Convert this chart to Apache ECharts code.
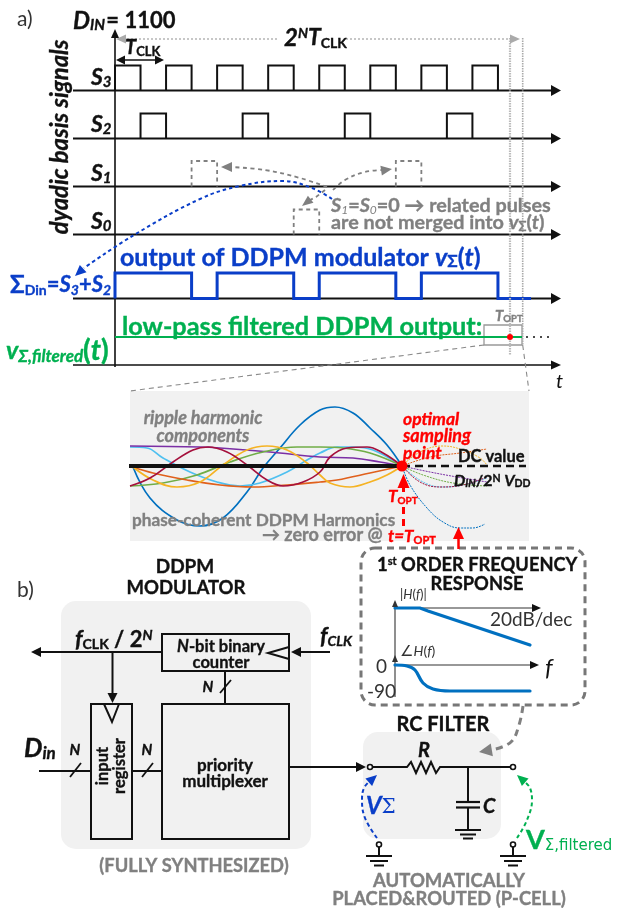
<!DOCTYPE html>
<html><head><meta charset="utf-8">
<style>html,body{margin:0;padding:0;background:#fff}#c{width:624px;height:908px}</style>
<script src="https://cdn.jsdelivr.net/npm/echarts@6/dist/echarts.min.js"></script>
</head><body><div id="c"></div>
<script>
// ---------- digital waveforms (one value per clock slot) ----------
const S3 = [1,0,1,0,1,0,1,0,1,0,1,0,1,0,1,0];
const S2 = [0,1,0,0,0,1,0,0,0,1,0,0,0,1,0,0];
const S1 = [0,0,0,1,0,0,0,0,0,0,0,1,0,0,0,0];
const S0 = [0,0,0,0,0,0,0,1,0,0,0,0,0,0,0,0];
const SIGMA = S3.map((v,i)=>v||S2[i]?1:0);

// ---------- ripple harmonics ----------
const waveBlue = [[133,467],[150,498],[177,520],[200,526],[223,518],[247,492],[263,468],[280,448],[300,425],[320,410],[335,407],[353,413],[370,428],[387,445],[402,466]];
const waveBlueTail = [[402,466],[410,485],[427,508],[443,522],[460,528],[473,528],[485,524]];
const waveSky = [[130,447],[147,448],[163,458],[190,472],[217,482],[240,486],[260,483],[287,472],[307,460],[320,453],[337,447],[353,447],[373,450],[402,466]];
const waveSkyTail = [[402,466],[423,482],[443,487],[463,485],[487,478]];
const wavePurple = [[130,446],[200,447],[220,448],[270,452],[320,457],[353,458],[380,462],[402,466]];
const wavePurpleTail = [[402,466],[430,472],[457,477],[487,482]];
const waveGreen = [[130,486],[163,483],[197,475],[230,462],[263,452],[297,447],[320,447],[343,448],[370,453],[402,466]];
const waveGreenTail = [[402,466],[423,475],[453,483],[487,486]];
const waveOrange = [[133,467],[153,473],[187,480],[220,485],[253,487],[287,485],[320,482],[337,480],[370,473],[402,466]];
const waveOrangeTail = [[402,466],[430,457],[460,453],[487,449]];
const waveYellow = [[133,467],[153,480],[177,487],[200,482],[223,465],[247,450],[267,446],[287,450],[307,463],[320,475],[330,483],[350,487],[370,482],[387,475],[402,466]];
const waveYellowTail = [[402,466],[420,452],[443,446],[463,450],[480,458],[487,465]];
const waveCrimson = [[130,486],[150,478],[173,462],[193,450],[208,447],[227,452],[247,465],[267,480],[283,486],[303,482],[320,472],[330,457],[347,448],[367,447],[383,453],[402,466]];
const waveCrimsonTail = [[402,466],[420,482],[440,487],[463,485],[487,477]];

// ---------- frequency response ----------
const magResponse = [[395,608],[420,608],[428,611],[530,645]];
const phaseResponse = [[395,665],[407,666],[415,670],[423,683],[433,689],[450,691],[530,691]];

// ---------- drawing helpers ----------
const BLACK='#111111', GRAY='#808080', BLUE='#0a3ec8', GREEN='#00b050', RED='#ff0000', TEAL='#0070c0', DARK='#333333';
const FONT="Lato, 'Noto Sans', 'DejaVu Sans', sans-serif";
const X0=115, T=25.53;
const clk=i=>X0+i*T;
const series=[];

function L(points,color,width,opt){opt=opt||{};
  series.push({type:'line',data:points,symbol:'none',silent:true,animation:false,clip:false,z:opt.z||3,
    smooth:opt.smooth||false,lineStyle:{color:color,width:width,type:opt.dash||'solid',cap:opt.cap||'butt',join:'miter'}});
}
const heads=[];
function H(tip,from,color,w,h){ // arrowhead at tip, pointing away from "from"
  const dx=tip[0]-from[0],dy=tip[1]-from[1],n=Math.hypot(dx,dy)||1;
  heads.push({value:[tip[0]-dx/n*h/2,tip[1]-dy/n*h/2],symbolSize:[w,h],
    symbolRotate:Math.atan2(dx,-dy)*-180/Math.PI,itemStyle:{color:color,opacity:1}});
}
function wave(bits,yLow,yHigh,xEnd,color,width,dash){
  const pts=[[clk(0),yLow]];
  bits.forEach((b,i)=>{const y=b?yHigh:yLow;pts.push([clk(i),y]);pts.push([clk(i+1),y]);});
  pts.push([clk(bits.length),yLow]);
  if(xEnd)pts.push([xEnd,yLow]);
  L(pts,color,width,{dash:dash});
}
function pulse(i,yLow,yHigh,color,width,dash){
  L([[clk(i),yLow],[clk(i),yHigh],[clk(i+1),yHigh],[clk(i+1),yLow]],color,width,{dash:dash});
}
const labels=[];
// runs: [text,size,flags('b','i','bi',''),color,valign,family]
function Tx(x,y,runs,opt){opt=opt||{};const rich={};let f='';
  runs.forEach((r,i)=>{const k='r'+i;f+='{'+k+'|'+r[0]+'}';const bold=/b/.test(r[2]);
    rich[k]={fontSize:r[1],fontFamily:r[5]||FONT,fontWeight:bold?'bold':'normal',fontStyle:/i/.test(r[2])?'italic':'normal',
      color:r[3],verticalAlign:r[4]||'middle',align:'left',textBorderColor:bold?r[3]:'transparent',textBorderWidth:bold?0.35:0};});
  labels.push({value:[x,y],symbolSize:1,itemStyle:{color:'rgba(0,0,0,0)',opacity:1},
    label:{show:true,position:'inside',formatter:f,rich:rich,align:opt.align||'left',verticalAlign:'middle',rotate:opt.rotate||0}});
}

// ---------- panels ----------
const panels=[
 {r:[130,391,399,150],rad:0,fill:'#f1f1f1'},
 {r:[61,601,250,248],rad:15,fill:'#f1f1f1'},
 {r:[363,732,138,107],rad:15,fill:'#f1f1f1'},
 {r:[361,548,224,157],rad:14,fill:'#fff',stroke:'#777',lw:3,dash:[7,5]},
 {r:[484,325,38,20],rad:0,fill:'rgba(0,0,0,0)',stroke:'#999',lw:1.3},
 {r:[162,634,127,37],rad:0,fill:'rgba(0,0,0,0)',stroke:BLACK,lw:2},
 {r:[91,704,41,135],rad:0,fill:'rgba(0,0,0,0)',stroke:BLACK,lw:2},
 {r:[162,704,127,135],rad:0,fill:'rgba(0,0,0,0)',stroke:BLACK,lw:2}
];
series.push({type:'custom',animation:false,silent:true,clip:false,z:1,data:panels.map((p,i)=>[i]),
  renderItem:(params,api)=>{const p=panels[params.dataIndex];const a=api.coord([p.r[0],p.r[1]]);
    return {type:'rect',shape:{x:a[0],y:a[1],width:p.r[2],height:p.r[3],r:p.rad},
      style:{fill:p.fill,stroke:p.stroke||null,lineWidth:p.lw||0,lineDash:p.dash||null}};}});

// ---------- (a) timing diagram ----------
const rails=[90.5,138.5,186.5,234.5,298.5];
rails.forEach(y=>{L([[73,y],[552,y]],BLACK,2);H([561,y],[552,y],BLACK,11,10);});
L([[73,365],[552,365]],BLACK,1.5);H([561,365],[552,365],BLACK,9,10);
L([[115,367],[115,36]],BLACK,1.6);H([115,29],[115,40],BLACK,8,9);
S3.forEach((b,i)=>{if(b)pulse(i,90.5,65.5,BLACK,2);});
S2.forEach((b,i)=>{if(b)pulse(i,138.5,113.5,BLACK,2);});
S1.forEach((b,i)=>{if(b)pulse(i,186.5,161,'#808080',1.8,[4,3.5]);});
S0.forEach((b,i)=>{if(b)pulse(i,234.5,209.5,'#808080',1.8,[4,3.5]);});
wave(SIGMA,298.5,273,531,BLUE,3);
L([[115,337],[522,337]],GREEN,2,{z:4});
// dotted guide lines
L([[510,38],[510,355]],'#bbbbbb',2.2,{dash:[1.5,1]});
L([[522.7,38],[522.7,345]],'#aaaaaa',1.6,{dash:[1.5,1]});
L([[346,39],[515,39]],'#b5b5b5',1.3,{dash:[2,2]});
L([[277,39],[125,39]],'#b5b5b5',1.3,{dash:[2,2]});
H([520,39],[510,39],'#aaaaaa',9,10);H([116,39],[126,39],'#aaaaaa',9,10);
L([[120,60],[160,60]],BLACK,1.6);H([116,60],[126,60],BLACK,9,9);H([164,60],[154,60],BLACK,9,9);
// curved grey arrows
L([[327,187],[300,178],[265,170],[230,167]],GRAY,1.8,{dash:[4,3.5],smooth:0.4});H([221,167],[231,167],GRAY,10,11);
L([[333,190],[345,180],[365,172],[385,170]],GRAY,1.8,{dash:[4,3.5],smooth:0.4});H([392,169],[382,170.5],GRAY,10,11);
L([[325,190],[316,197],[310,200]],GRAY,1.8,{dash:[4,3.5]});H([302,206],[311,199],GRAY,9,11);
// blue merge arrow
L([[332,199],[312,188],[283,181],[240,186],[200,199],[134,235],[84,268]],BLUE,2,{dash:[3.5,3],smooth:0.4,z:5});H([75,276],[85,267],BLUE,10,11);
// zoom guides
L([[484,345],[130,391]],'#8a8a8a',1.1,{dash:[5,4]});
L([[522.7,345],[529,391]],'#8a8a8a',1.1,{dash:[5,4]});
L([[526,337],[553,337]],BLACK,1.6,{dash:[2,5]});

// ---------- inset waves ----------
[[waveBlue,waveBlueTail,TEAL],[waveSky,waveSkyTail,'#4fc0f0'],[wavePurple,wavePurpleTail,'#7b2fa5'],
 [waveGreen,waveGreenTail,'#70ad47'],[waveOrange,waveOrangeTail,'#e0601c'],[waveYellow,waveYellowTail,'#f5b324'],[waveCrimson,waveCrimsonTail,'#a5103c']].forEach(w=>{
  L(w[0],w[2],1.7,{smooth:0.4,z:3});
  L(w[1],w[2],1,{smooth:0.4,z:3,dash:[2,1]});
});
L([[129,466],[402,466]],BLACK,4,{z:4});
L([[402,466],[526,466]],BLACK,2.4,{dash:[8,5],z:4});
L([[403.5,487],[403.5,492]],RED,3);
L([[403.5,507],[403.5,527]],RED,3,{dash:[7,5]});
H([403.5,474],[403.5,487],RED,12,14);
L([[458.5,537],[458.5,549]],RED,2.5);
H([458.5,527],[458.5,540],RED,11,12);

// ---------- frequency response ----------
L([[395,697],[395,606]],DARK,1.1);H([395,600],[395,608],DARK,6,7);
H([395,655],[395,662],DARK,6,7);
L([[395,608],[533,608]],DARK,1.2);H([541,608],[533,608],BLACK,8,9);
L([[395,665],[531,665]],DARK,1.2);H([539,665],[531,665],BLACK,8,9);
L(magResponse,TEAL,3.2,{z:4,cap:'round'});
L(phaseResponse,TEAL,3.2,{z:4,smooth:0.35,cap:'round'});
L([[523,706],[519,725],[511,742],[492,750]],GRAY,3,{dash:[7,5],smooth:0.4});H([479,752],[491,750],GRAY,13,13);

// ---------- (b) block diagram ----------
L([[162,652],[40,652]],BLACK,2);H([31,652],[41,652],BLACK,10,10);
L([[330,652],[299,652]],BLACK,2);H([291,652],[301,652],BLACK,10,10);
L([[112.5,652],[112.5,695]],BLACK,2);H([112.5,703],[112.5,693],BLACK,10,10);
L([[289,647],[268,653],[289,659]],BLACK,2);
L([[104,704],[112,722],[119,704]],BLACK,2);
L([[225,671],[225,704]],BLACK,2);
L([[220,693],[231,680]],BLACK,1.8);
L([[39,771],[91,771]],BLACK,2);L([[70,777],[81,763]],BLACK,1.8);
L([[132,771],[162,771]],BLACK,2);L([[142,777],[153,763]],BLACK,1.8);
L([[289,767],[356,767]],BLACK,2);H([366,767],[356,767],BLACK,10,10);

// ---------- RC filter ----------
const resistor=[[372,767],[407,767],[411,762],[416,773],[421,762],[426,773],[431,762],[436,773],[440,767],[511,767]];
L(resistor,BLACK,2);
L([[468,767],[468,802]],BLACK,2);
L([[456,802],[480,802]],BLACK,2.2);L([[456,807.5],[480,807.5]],BLACK,2.2);
L([[468,807.5],[468,830]],BLACK,2);
[[455,481,830],[460,476,834.5],[463,473,838.5]].forEach(g=>L([[g[0],g[2]],[g[1],g[2]]],BLACK,2));
[379,513].forEach(x=>{
  L([[x,846],[x,856]],BLACK,2);
  L([[x-13,856],[x+13,856]],BLACK,2);L([[x-9,861],[x+9,861]],BLACK,2);L([[x-5,865.5],[x+5,865.5]],BLACK,2);
});
const nodes=[[370,767],[513,767],[379,844.5],[513,844.5]].map(p=>({value:p,symbolSize:5,symbol:'circle',itemStyle:{color:'#fff',borderColor:BLACK,borderWidth:1.6,opacity:1}}));
L([[377,838],[365,818],[362,800],[364,788],[370,781]],BLUE,2,{dash:[4,3],smooth:0.4});H([377,775],[368,783],BLUE,10,11);
L([[517,838],[527,820],[532,800],[530,788],[525,782]],GREEN,2,{dash:[4,3],smooth:0.4});H([517,775],[526,783],GREEN,10,11);

// markers
const reddot=[{value:[510,337],symbolSize:6,symbol:'circle',itemStyle:{color:RED,opacity:1}},{value:[402,466],symbolSize:11,symbol:'circle',itemStyle:{color:RED,opacity:1}}];
series.push({type:'scatter',data:heads,symbol:'triangle',silent:true,animation:false,clip:false,z:6});
series.push({type:'scatter',data:nodes.concat(reddot),silent:true,animation:false,clip:false,z:7});

// ---------- text ----------
const K=BLACK;
Tx(17,19,[['a)',21,'',DARK]]);
Tx(17,590,[['b)',21,'',DARK]]);
Tx(73,21,[['D',24,'bi',K],['IN',15,'bi',K,'bottom'],['\u200a= 1100',22,'b',K]]);
Tx(284,38,[['2',24,'bi',K],['N',14,'bi',K,'top'],['T',23,'bi',K],['CLK',14,'b',K,'bottom']]);
Tx(125,48,[['T',20,'bi',K],['CLK',13,'b',K,'bottom']]);
Tx(60,137,[['dyadic basis signals',23.8,'bi',K]],{rotate:90,align:'center'});
[['3',78],['2',125],['1',174],['0',222]].forEach(s=>Tx(91,s[1],[['S',23,'bi',K],[s[0],15,'bi',K,'bottom']]));
Tx(331,206,[['S',19.8,'bi',GRAY],['1',12,'i',GRAY,'bottom'],['=',19.8,'b',GRAY],['S',19.8,'bi',GRAY],['0',12,'i',GRAY,'bottom'],['=0 → related pulses',19.8,'b',GRAY]]);
Tx(331,223,[['are not merged into ',19.8,'b',GRAY],['v',19.8,'bi',GRAY],['Σ',13,'b',GRAY,'bottom'],['(',19.8,'b',GRAY],['t',19.8,'bi',GRAY],[')',19.8,'b',GRAY]]);
Tx(120,258,[['output of DDPM modulator ',25,'b',BLUE],['v',25,'bi',BLUE],['Σ',17,'b',BLUE,'bottom'],['(',25,'b',BLUE],['t',25,'bi',BLUE],[')',25,'b',BLUE]]);
Tx(10,285,[['Σ',24,'b',BLUE],['Din',14,'b',BLUE,'bottom'],['=',22,'b',BLUE],['S',22,'bi',BLUE],['3',14,'bi',BLUE,'bottom'],['+',22,'b',BLUE],['S',22,'bi',BLUE],['2',14,'bi',BLUE,'bottom']]);
Tx(122,327,[['low-pass filtered DDPM output:',25.3,'b',GREEN]]);
Tx(6,351,[['v',25,'bi',GREEN],['Σ,filtered',17,'bi',GREEN,'bottom'],['(',28,'b',GREEN],['t',28,'bi',GREEN],[')',28,'b',GREEN]]);
Tx(495,316,[['T',15,'bi',GRAY],['OPT',9.5,'b',GRAY,'bottom']]);
Tx(556,382,[['t',20,'i',K]]);

Tx(203,418,[['ripple harmonic',18,'bi',GRAY]],{align:'center'});
Tx(203,436,[['components',18,'bi',GRAY]],{align:'center'});
Tx(403,419,[['optimal',17.5,'bi',RED]]);
Tx(403,436,[['sampling',18,'bi',RED]]);
Tx(403,453,[['point',17.5,'bi',RED]]);
Tx(458,457,[['DC value',16.5,'b',K]]);
Tx(454,481,[['D',16,'bi',K],['IN',10.5,'bi',K,'bottom'],['/2',16,'b',K],['N',10.5,'b',K,'top'],[' V',16,'bi',K],['DD',10.5,'b',K,'bottom']]);
Tx(388,497,[['T',17,'bi',RED],['OPT',10,'b',RED,'bottom']]);
Tx(388,537,[['t=T',17,'bi',RED],['OPT',11,'b',RED,'bottom']]);
Tx(132,520,[['phase-coherent DDPM Harmonics',17.2,'b',GRAY]]);
Tx(262,535,[['→ zero error @',18,'b',GRAY]]);

Tx(377,565,[['1',18.5,'b',K],['st',11,'b',K,'top'],[' ORDER FREQUENCY',18.3,'b',K]]);
Tx(477,584,[['RESPONSE',18.3,'b',K]],{align:'center'});
Tx(400,595,[['|',13,'',DARK],['H',13,'i',DARK],['(',13,'',DARK],['f',13,'i',DARK],[')|',13,'',DARK]]);
Tx(400,651,[['∠',15,'',DARK],['H',14,'i',DARK],['(',14,'',DARK],['f',14,'i',DARK],[')',14,'',DARK]]);
Tx(490,620,[['20dB/dec',19,'',DARK]]);
Tx(376,667,[['0',19,'',DARK]]);
Tx(367,692,[['-90',19,'',DARK]]);
Tx(545,668,[['f',24,'i',K]]);

Tx(185,567,[['DDPM',19,'b',K]],{align:'center'});
Tx(186,588,[['MODULATOR',18.5,'b',K]],{align:'center'});
Tx(75,640,[['f',23,'bi',K],['CLK',14,'b',K,'bottom'],[' / 2',22,'b',K],['N',14,'bi',K,'top']]);
Tx(320,637,[['f',23,'bi',K],['CLK',14,'bi',K,'bottom']]);
Tx(221,647,[['N',16.5,'bi',K],['-bit binary',16.5,'b',K]],{align:'center'});
Tx(221,663,[['counter',16.5,'b',K]],{align:'center'});
Tx(208,687,[['N',15,'bi',K]],{align:'center'});
Tx(75,750,[['N',15,'bi',K]],{align:'center'});
Tx(147,750,[['N',15,'bi',K]],{align:'center'});
Tx(24,749,[['D',26,'bi',K],['in',17,'bi',K,'bottom']]);
Tx(103,766,[['input',16.5,'b',K]],{align:'center',rotate:90});
Tx(120,766,[['register',16.5,'b',K]],{align:'center',rotate:90});
Tx(225,766,[['priority',17,'b',K]],{align:'center'});
Tx(225,782,[['multiplexer',17,'b',K]],{align:'center'});
Tx(194,866,[['(FULLY SYNTHESIZED)',18.3,'b',GRAY]],{align:'center'});
Tx(443,725,[['RC FILTER',20,'b',K]],{align:'center'});
Tx(418,751,[['R',20,'bi',K]]);
Tx(483,807,[['C',20,'bi',K]]);
Tx(366,806,[['V',24,'bi',BLUE],['Σ',20,'',BLUE,'bottom',"'DejaVu Serif', serif"]]);
Tx(526,840,[['V',27,'b',GREEN],['Σ,filtered',15,'',GREEN,'bottom',"'DejaVu Sans', sans-serif"]]);
Tx(449,881,[['AUTOMATICALLY',18.5,'b',GRAY]],{align:'center'});
Tx(449,899,[['PLACED&ROUTED (P-CELL)',18.4,'b',GRAY]],{align:'center'});

series.push({type:'scatter',data:labels,symbol:'circle',silent:true,animation:false,clip:false,z:8});

const chart=echarts.init(document.getElementById('c'),null,{renderer:'canvas'});
chart.setOption({animation:false,backgroundColor:'#fff',tooltip:{show:false},legend:{show:false},
  grid:{left:0,right:0,top:0,bottom:0},
  xAxis:{type:'value',min:0,max:624,show:false},
  yAxis:{type:'value',min:0,max:908,inverse:true,show:false},
  series:series});
</script></body></html>
